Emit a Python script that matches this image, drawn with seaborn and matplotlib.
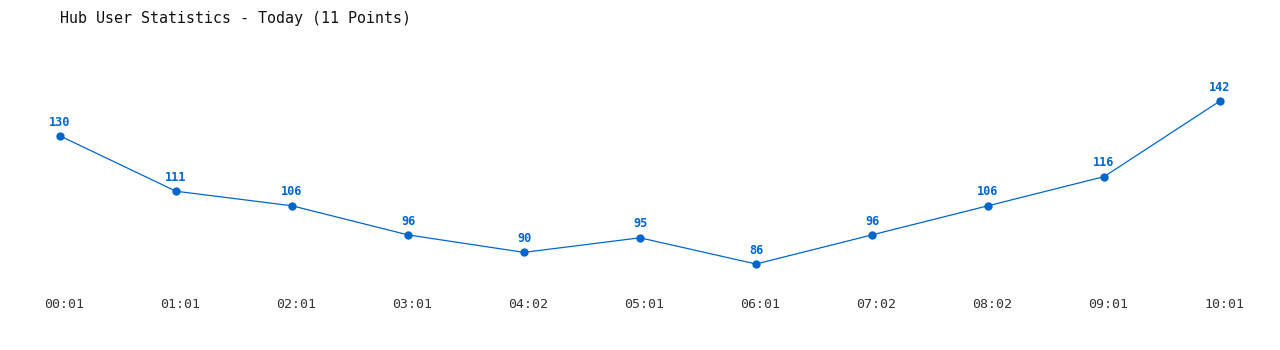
import matplotlib
matplotlib.use("Agg")
import matplotlib.pyplot as plt
import matplotlib.transforms as mtransforms
import seaborn as sns
import pandas as pd

times = ["00:01", "01:01", "02:01", "03:01", "04:02", "05:01", "06:01", "07:02", "08:02", "09:01", "10:01"]
users = [130, 111, 106, 96, 90, 95, 86, 96, 106, 116, 142]
title = "Hub User Statistics - Today (11 Points)"

sns.set_theme(style="white")
plt.rcParams["font.family"] = ["DejaVu Sans Mono", "DejaVu Sans"]

color = "#0066CC"
df = pd.DataFrame({"idx": range(len(times)), "users": users})

fig = plt.figure(figsize=(12.8, 3.5), dpi=100)
H = 350.0
ax = fig.add_axes([0, 60 / H, 1, 250 / H])

sns.lineplot(data=df, x="idx", y="users", ax=ax, color=color, linewidth=0.9,
             marker="o", markersize=6, markeredgewidth=0, markeredgecolor=color)

# pixel mapping: x px = 60 + 116*i ; y px(from top) = 264 - 2.9107*(v-86)
ax.set_xlim(-60 / 116, (1280 - 60) / 116)
s = 163 / 56
ax.set_ylim(86 - 26 / s, 86 + 224 / s)

for i, v in enumerate(users):
    ax.annotate(str(v), (i, v), xytext=(0, 10), textcoords="offset points",
                ha="center", va="center", color=color, fontsize=8.6, fontweight="bold")

ax.set_xticks(range(len(times)))
ax.set_xticklabels(times, fontsize=9.5, color="#333333")
ax.tick_params(axis="x", length=0, pad=5.5)
offset = mtransforms.ScaledTranslation(4 / 100, 0, fig.dpi_scale_trans)
for lbl in ax.get_xticklabels():
    lbl.set_transform(lbl.get_transform() + offset)
ax.set_yticks([])
ax.set_xlabel("")
ax.set_ylabel("")
for sp in ax.spines.values():
    sp.set_visible(False)

fig.text(60 / 1280, 1 - 18 / H, title, ha="left", va="center", fontsize=10.8, color="#111111")

fig.savefig("out.png", dpi=100, facecolor="white")
